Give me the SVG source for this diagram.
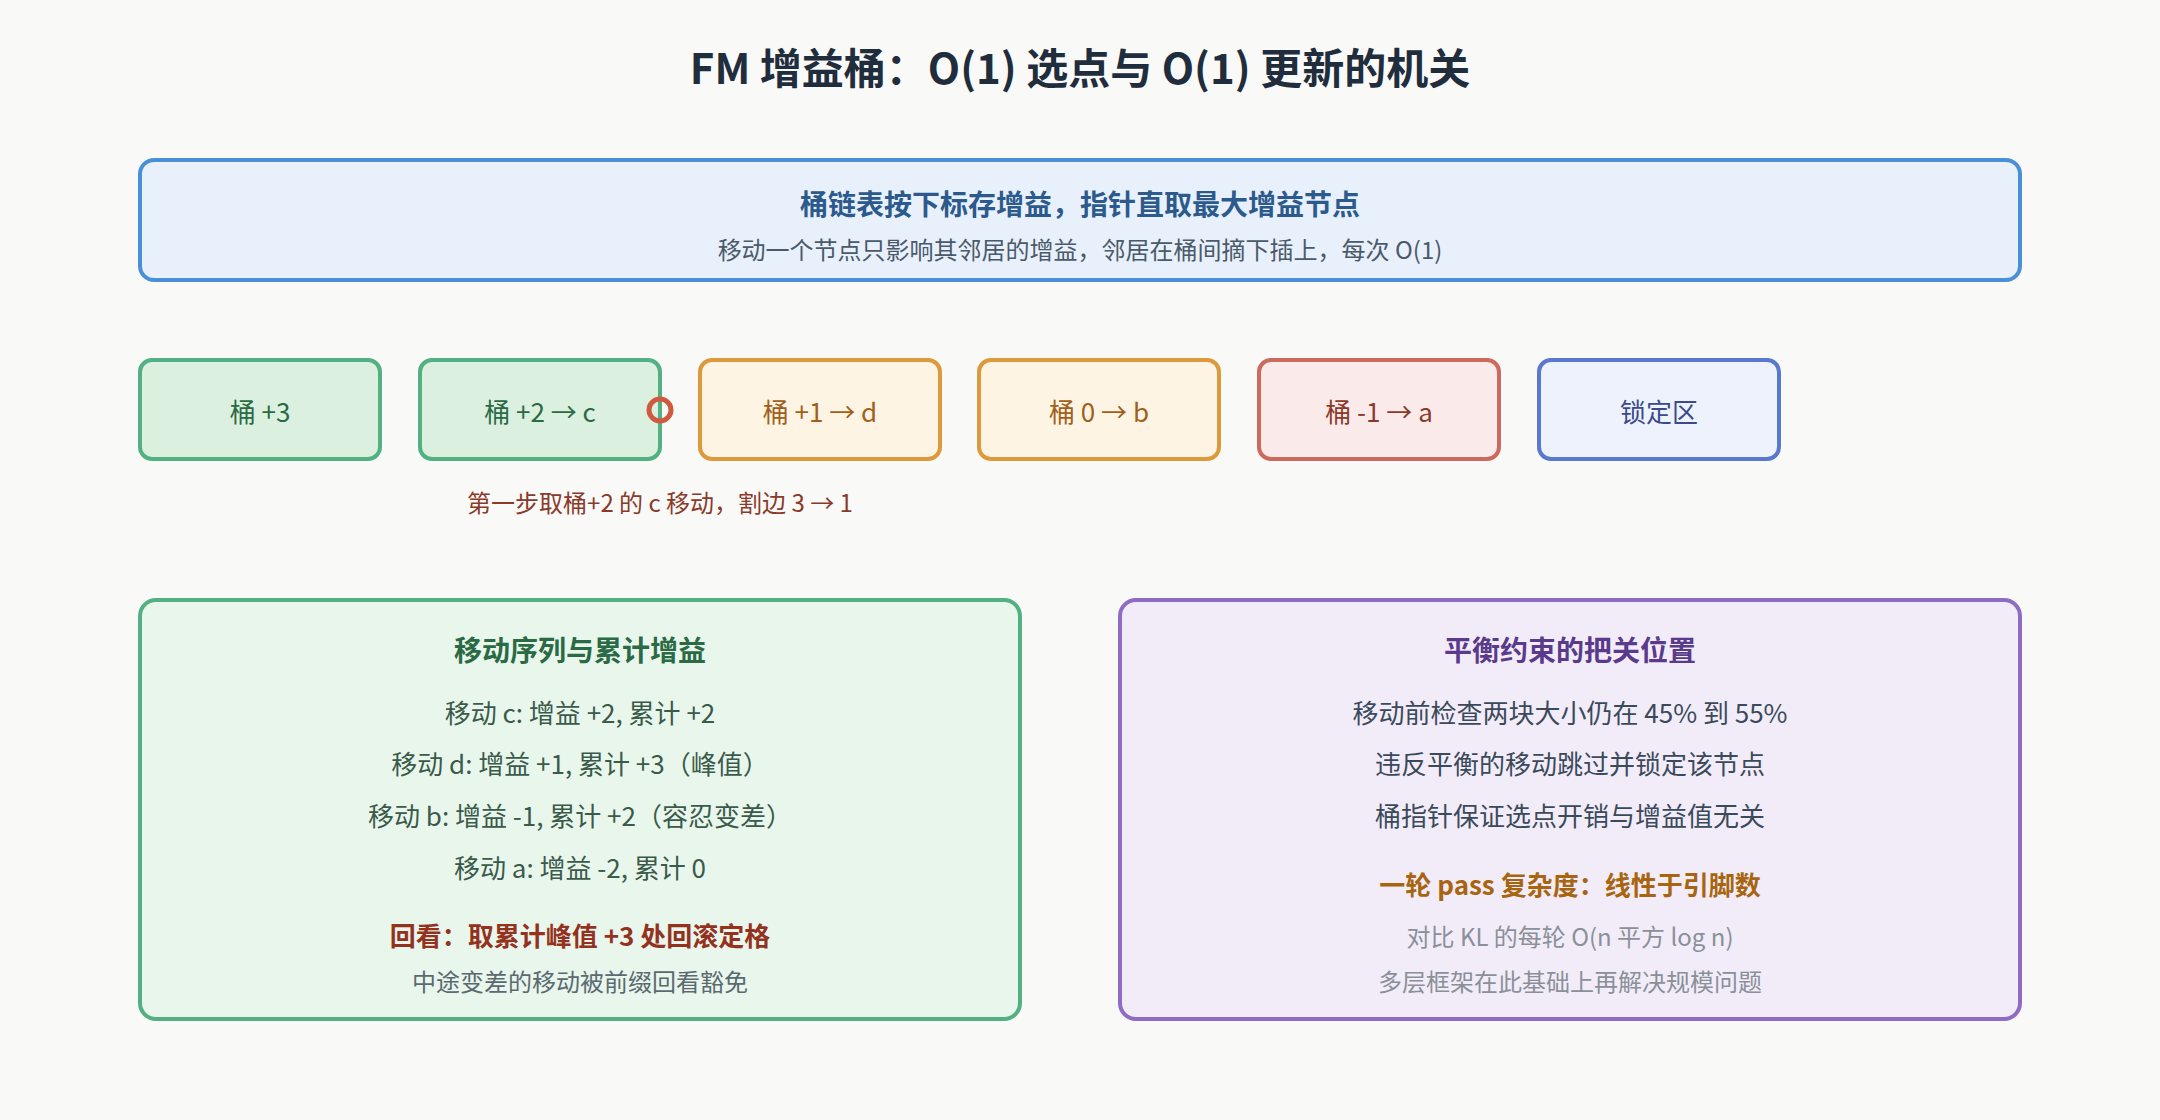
<svg xmlns="http://www.w3.org/2000/svg" width="2160" height="1120" viewBox="0 0 2160 1120">
<style>
text{font-family:"Noto Sans CJK SC","Noto Sans",sans-serif;text-anchor:middle;dominant-baseline:central}
.b{font-size:26px}
.t{font-size:28px;font-weight:bold}
</style>
<rect width="2160" height="1120" fill="#f9f9f8"/>
<text x="1080" y="65" style="font-size:42px;font-weight:bold" fill="#1f2d3d">FM 增益桶：O(1) 选点与 O(1) 更新的机关</text>
<g id="header">
<rect x="140" y="160" width="1880" height="120" rx="14" fill="#e8f0fb" stroke="#4a90d9" stroke-width="4"/>
<text x="1080" y="203" class="t" fill="#2c5a8c">桶链表按下标存增益，指针直取最大增益节点</text>
<text x="1080" y="248" style="font-size:24px" fill="#4a5a6a">移动一个节点只影响其邻居的增益，邻居在桶间摘下插上，每次 O(1)</text>
</g>
<g id="b3"><rect x="140" y="360" width="240" height="99" rx="12" fill="#dbf0de" stroke="#52b082" stroke-width="4"/><text x="260" y="410" class="b" fill="#2a6a45">桶 +3</text></g>
<g id="b2"><rect x="420" y="360" width="240" height="99" rx="12" fill="#dbf0de" stroke="#52b082" stroke-width="4"/><text x="540" y="410" class="b" fill="#2a6a45">桶 +2 → c</text></g>
<g id="b1"><rect x="700" y="360" width="240" height="99" rx="12" fill="#fdf4e4" stroke="#dc9a3c" stroke-width="4"/><text x="820" y="410" class="b" fill="#a0601a">桶 +1 → d</text></g>
<g id="b0"><rect x="979" y="360" width="240" height="99" rx="12" fill="#fdf4e4" stroke="#dc9a3c" stroke-width="4"/><text x="1099" y="410" class="b" fill="#a0601a">桶 0 → b</text></g>
<g id="bm1"><rect x="1259" y="360" width="240" height="99" rx="12" fill="#fbeaea" stroke="#cd6a5e" stroke-width="4"/><text x="1379" y="410" class="b" fill="#8a3a2a">桶 -1 → a</text></g>
<g id="lock"><rect x="1539" y="360" width="240" height="99" rx="12" fill="#eef2fc" stroke="#5a78cc" stroke-width="4"/><text x="1659" y="410" class="b" fill="#3a4a8a">锁定区</text></g>
<g id="connectors">
<circle cx="660" cy="410" r="11" fill="none" stroke="#d05a40" stroke-width="5"/>
</g>
<text x="660" y="501" style="font-size:24px" fill="#8a3a2a">第一步取桶+2 的 c 移动，割边 3 → 1</text>
<g id="seq">
<rect x="140" y="600" width="880" height="419" rx="16" fill="#e9f6ec" stroke="#52b082" stroke-width="4"/>
<text x="580" y="649" class="t" fill="#2a6a45">移动序列与累计增益</text>
<text x="580" y="711" class="b" fill="#3a5a4a">移动 c: 增益 +2, 累计 +2</text>
<text x="580" y="762" class="b" fill="#3a5a4a">移动 d: 增益 +1, 累计 +3（峰值）</text>
<text x="580" y="814" class="b" fill="#3a5a4a">移动 b: 增益 -1, 累计 +2（容忍变差）</text>
<text x="580" y="866" class="b" fill="#3a5a4a">移动 a: 增益 -2, 累计 0</text>
<text x="580" y="934" class="t" style="font-size:26px" fill="#93331f">回看：取累计峰值 +3 处回滚定格</text>
<text x="580" y="980" style="font-size:24px" fill="#5a6a70">中途变差的移动被前缀回看豁免</text>
</g>
<g id="bal">
<rect x="1120" y="600" width="900" height="419" rx="16" fill="#f2ecf9" stroke="#8e6cc4" stroke-width="4"/>
<text x="1570" y="649" class="t" fill="#5a3a8a">平衡约束的把关位置</text>
<text x="1570" y="711" class="b" fill="#3a4a5a">移动前检查两块大小仍在 45% 到 55%</text>
<text x="1570" y="762" class="b" fill="#3a4a5a">违反平衡的移动跳过并锁定该节点</text>
<text x="1570" y="814" class="b" fill="#3a4a5a">桶指针保证选点开销与增益值无关</text>
<text x="1570" y="883" class="t" style="font-size:26px" fill="#a86510">一轮 pass 复杂度：线性于引脚数</text>
<text x="1570" y="935" style="font-size:24px" fill="#8a9098">对比 KL 的每轮 O(n 平方 log n)</text>
<text x="1570" y="980" style="font-size:24px" fill="#8a9098">多层框架在此基础上再解决规模问题</text>
</g>
</svg>
